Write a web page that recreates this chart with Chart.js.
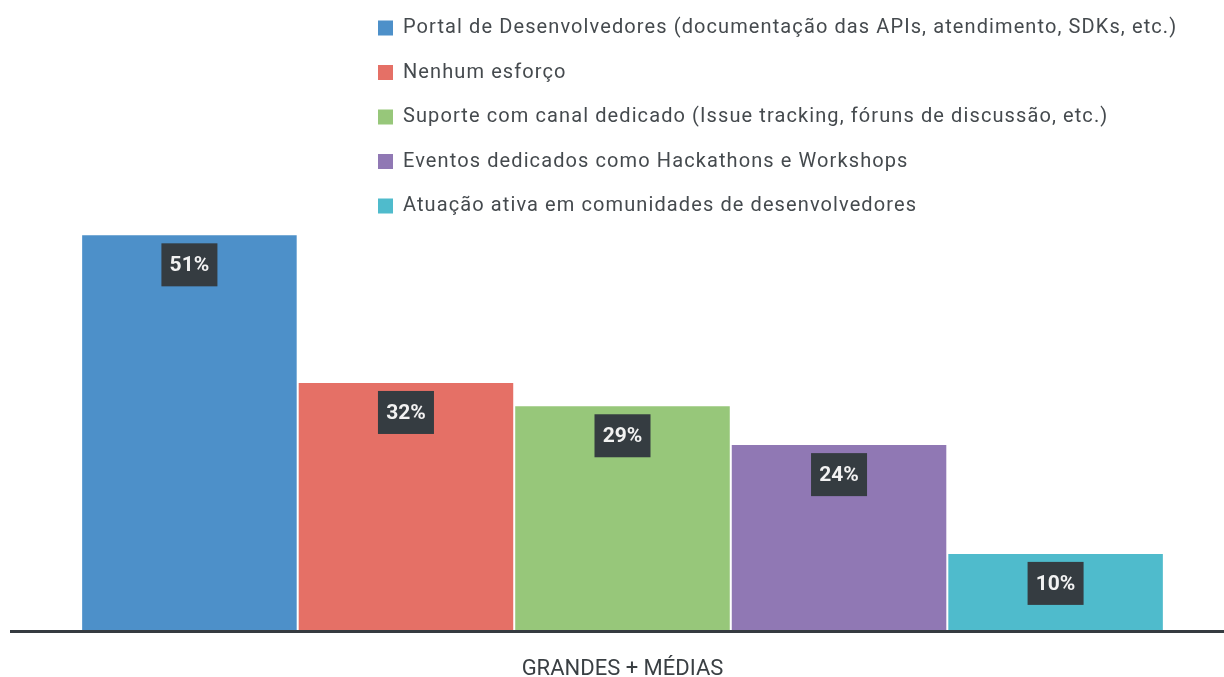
<!DOCTYPE html>
<html>
<head>
<meta charset="utf-8">
<script src="https://cdn.jsdelivr.net/npm/chart.js@4"></script>
<style>
html,body{margin:0;padding:0;background:#fff;}
#wrap{width:1224px;height:677px;position:relative;}
</style>
</head>
<body>
<div id="wrap"><canvas id="c" width="1224" height="677"></canvas></div>
<script>
const categories = ["GRANDES + MÉDIAS"];
const seriesNames = [
  "Portal de Desenvolvedores (documentação das APIs, atendimento, SDKs, etc.)",
  "Nenhum esforço",
  "Suporte com canal dedicado (Issue tracking, fóruns de discussão, etc.)",
  "Eventos dedicados como Hackathons e Workshops",
  "Atuação ativa em comunidades de desenvolvedores"
];
const seriesValues = [51, 32, 29, 24, 10];
const seriesColors = ["#4d90c9", "#e57066", "#97c77a", "#9078b4", "#4fbbcc"];

const FONT = "Roboto, 'Noto Sans', sans-serif";

const datasets = seriesNames.map((name, i) => ({
  label: name,
  data: [seriesValues[i]],
  backgroundColor: seriesColors[i],
  borderColor: "rgba(255,255,255,0.55)",
  borderWidth: 1,
  categoryPercentage: 0.9,
  barPercentage: 1.0
}));

const overlay = {
  id: "overlay",
  afterDraw(chart) {
    const ctx = chart.ctx;
    const area = chart.chartArea;
    ctx.save();
    // axis line
    ctx.strokeStyle = "#353b40";
    ctx.lineWidth = 3;
    ctx.beginPath();
    ctx.moveTo(area.left - 11, area.bottom + 1);
    ctx.lineTo(chart.width, area.bottom + 1);
    ctx.stroke();
    // value labels
    chart.data.datasets.forEach((ds, i) => {
      const meta = chart.getDatasetMeta(i);
      meta.data.forEach((bar, j) => {
        const txt = ds.data[j] + "%";
        const w = 56, h = 43;
        const x = bar.x - w / 2, y = bar.y + 9;
        ctx.fillStyle = "#353c41";
        ctx.fillRect(x, y, w, h);
        ctx.fillStyle = "#f2f2f2";
        ctx.font = "bold 21px " + FONT;
        ctx.textAlign = "center";
        ctx.textBaseline = "middle";
        ctx.fillText(txt, bar.x, y + h / 2 + 1);
      });
    });
    // legend
    const lx = 378, ly0 = 28, step = 44.5, box = 15;
    chart.data.datasets.forEach((ds, i) => {
      const cy = ly0 + i * step;
      ctx.fillStyle = ds.backgroundColor;
      ctx.fillRect(lx, cy - box / 2, box, box);
      ctx.fillStyle = "#454a4e";
      ctx.font = "20px " + FONT;
      if ("letterSpacing" in ctx) ctx.letterSpacing = "1.1px";
      ctx.textAlign = "left";
      ctx.textBaseline = "middle";
      ctx.fillText(ds.label, lx + 25, cy);
      if ("letterSpacing" in ctx) ctx.letterSpacing = "0px";
    });
    ctx.restore();
  }
};

new Chart(document.getElementById("c"), {
  type: "bar",
  data: { labels: categories, datasets },
  options: {
    responsive: false,
    animation: false,
    layout: { padding: { top: 9, left: 21, right: 0, bottom: -24 } },
    plugins: { legend: { display: false }, tooltip: { enabled: false } },
    scales: {
      x: {
        grid: { display: false },
        border: { display: false },
        ticks: { color: "#3a3f43", font: { family: FONT, size: 22 }, padding: 18 }
      },
      y: {
        display: false,
        min: 0,
        max: 80
      }
    }
  },
  plugins: [overlay]
});
</script>
</body>
</html>
